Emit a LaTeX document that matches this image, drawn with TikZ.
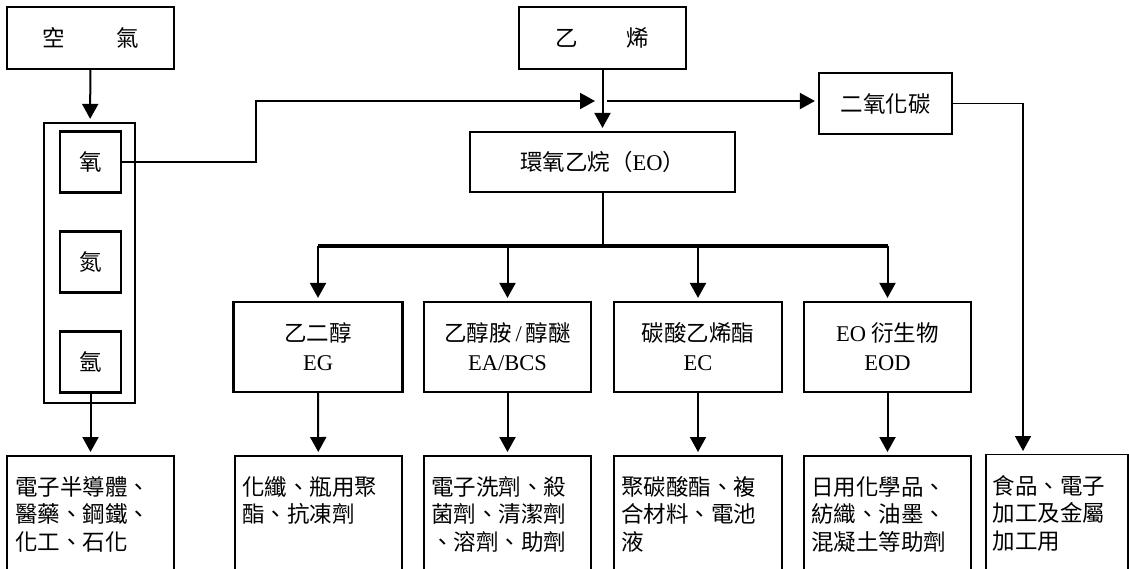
\documentclass[tikz,border=0pt]{standalone}
\usepackage{fontspec}
\setmainfont{Noto Sans CJK TC}
\newfontfamily\lat{Liberation Serif}
\usetikzlibrary{arrows.meta}
\begin{document}
\begin{tikzpicture}[x=1pt,y=-1pt,
    box/.style ={draw, line width=2.2pt, inner sep=0pt, align=center,
                 font=\fontsize{22.5}{29}\selectfont},
    usebox/.style ={draw, line width=2.2pt, anchor=north, minimum height=170pt},
    usetext/.style ={anchor=north west, inner sep=0pt, align=left,
                 font=\fontsize{22.5}{27.5}\selectfont},
    arr/.style ={line width=2pt, -{Triangle[width=16pt,length=15pt]}, shorten >=3pt}]
   \useasboundingbox (0,0) rectangle (1129,568);
   \clip (0,0) rectangle (1129,568);
   \fill[white] (0,0) rectangle (1129,568);
   % sources
   \node[box, minimum width=167pt, minimum height=62pt] (air) at (90.5,38) {空\hspace{52pt}氣};
   \node[box, minimum width=167pt, minimum height=62pt] (eth) at (602.5,38) {乙\hspace{49pt}烯};
   \node[box, minimum width=91pt, minimum height=280pt] (gas) at (89.5,263) {};
   \node[box, minimum width=61pt, minimum height=61pt] (O2) at (90.5,162) {氧};
   \node[box, minimum width=61pt, minimum height=61pt] (N2) at (90.5,262) {氮};
   \node[box, minimum width=61pt, minimum height=61pt] (Ar) at (90.5,362) {氬};
   \node[box, minimum width=265pt, minimum height=60pt] (EO) at (602.5,162) {環氧乙烷（{\lat EO}）};
   \node[box, minimum width=133pt, minimum height=61pt] (CO2) at (885.5,103.5) {二氧化碳};
   % products of EO
   \node[box, minimum width=169pt, minimum height=90pt] (EG) at (318,347) {乙二醇\\{\lat EG}};
   \node[box, minimum width=167pt, minimum height=90pt] (EA) at (507.5,347) {乙醇胺{\lat\,/\,}醇醚\\{\lat EA/BCS}};
   \node[box, minimum width=168pt, minimum height=90pt] (EC) at (698,347) {碳酸乙烯酯\\{\lat EC}};
   \node[box, minimum width=167pt, minimum height=90pt] (EOD) at (887.5,347) {{\lat EO} 衍生物\\{\lat EOD}};
   % uses
   \node[usebox, minimum width=167pt] (ArU) at (90.5,455) {};
   \node[usebox, minimum width=167pt] (EGU) at (318.5,455) {};
   \node[usebox, minimum width=167pt] (EAU) at (507.5,455) {};
   \node[usebox, minimum width=168pt] (ECU) at (698,455) {};
   \node[usebox, minimum width=167pt] (EODU) at (887.5,455) {};
   \node[usebox, line width=1.4pt, minimum width=142pt] (foodU) at (1057,454) {};
   \node[usetext] (tArU) at ([shift={(9pt,-21pt)}]ArU.north west) {電子半導體、\\醫藥、鋼鐵、\\化工、石化};
   \node[usetext] (tEGU) at ([shift={(8pt,-21pt)}]EGU.north west) {化纖、瓶用聚\\酯、抗凍劑};
   \node[usetext] (tEAU) at ([shift={(8pt,-21pt)}]EAU.north west) {電子洗劑、殺\\菌劑、清潔劑\\、溶劑、助劑};
   \node[usetext] (tECU) at ([shift={(8pt,-21pt)}]ECU.north west) {聚碳酸酯、複\\合材料、電池\\液};
   \node[usetext] (tEODU) at ([shift={(8pt,-21pt)}]EODU.north west) {日用化學品、\\紡織、油墨、\\混凝土等助劑};
   \node[usetext] (tfoodU) at ([shift={(7pt,-21pt)}]foodU.north west) {食品、電子\\加工及金屬\\加工用};
   % connectors
   \coordinate (kink) at (256,101);
   \coordinate (mixL) at (598,101);
   \coordinate (mixR) at (607,101);
   \coordinate (bus) at (602.5,246);
   \draw[arr] (air) -- (gas);
   \draw[arr] (O2.east) -| (kink) -- (mixL);
   \draw[arr] (eth) -- (EO);
   \draw[arr] (mixR) -- (mixR -| CO2.west);
   \draw[arr, line width=1.5pt] (CO2.east) -| ([xshift=-34pt]foodU.north);
   \draw[line width=2pt] (EO) -- (bus);
   \draw[line width=3.2pt] (EG.north |- bus) -- (EOD.north |- bus);
   \foreach \mid/\use in {EG/EGU, EA/EAU, EC/ECU, EOD/EODU}{
      \draw[arr] (\mid.north |- bus) -- (\mid);
      \draw[arr] (\mid) -- (\use);
   }
   \draw[arr] (Ar) -- (ArU);
\end{tikzpicture}
\end{document}
